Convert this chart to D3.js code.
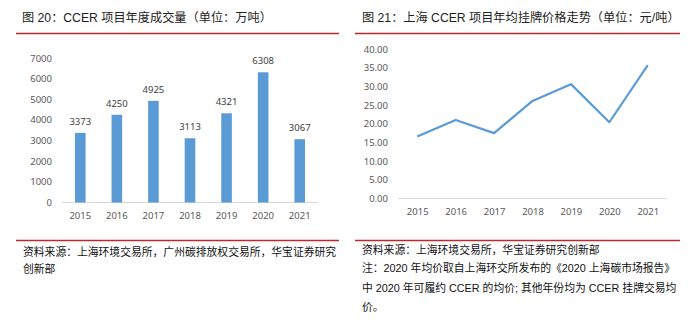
<!DOCTYPE html>
<html><head><meta charset="utf-8">
<script src="https://cdn.jsdelivr.net/npm/d3@7"></script>
<style>body{margin:0;background:#fff}svg{display:block}</style>
</head><body>
<svg id="c" width="695" height="323"></svg>
<script>
const years = ["2015","2016","2017","2018","2019","2020","2021"];
const volume = [3373,4250,4925,3113,4321,6308,3067];
const price = [16.6,21.0,17.5,26.1,30.6,20.4,35.7];
const volTicks = [0,1000,2000,3000,4000,5000,6000,7000];
const priceTicks = [0,5,10,15,20,25,30,35,40];
const leftTitle = "图 20：CCER 项目年度成交量（单位：万吨）";
const rightTitle = "图 21：上海 CCER 项目年均挂牌价格走势（单位：元/吨）";
const leftNotes = ["资料来源：上海环境交易所，广州碳排放权交易所，华宝证券研究","创新部"];
const rightNotes = ["资料来源：上海环境交易所，华宝证券研究创新部",
 "注：2020 年均价取自上海环交所发布的《2020 上海碳市场报告》",
 "中 2020 年可履约 CCER 的均价; 其他年份均为 CCER 挂牌交易均",
 "价。"];

const svg = d3.select("#c");
const cjk = "'Liberation Sans','Noto Sans CJK SC',sans-serif";
const tickFont = "'Noto Sans','Liberation Sans',sans-serif";
const red = "#c0282d", blue = "#5b9bd5";

function frame(x0, x1, tx, title, notes, nx, nys){
  svg.append("text").attr("x",tx).attr("y",22).attr("font-family",cjk).attr("font-size",12.2).attr("fill","#222").text(title);
  svg.append("line").attr("x1",x0).attr("x2",x1).attr("y1",33.5).attr("y2",33.5).attr("stroke",red).attr("stroke-width",1.3);
  svg.append("line").attr("x1",x0).attr("x2",x1).attr("y1",240.5).attr("y2",240.5).attr("stroke",red).attr("stroke-width",1.3);
  notes.forEach((t,i)=>svg.append("text").attr("x",nx).attr("y",nys[i]).attr("font-family",cjk).attr("font-size",10.8).attr("fill","#111").text(t));
}
frame(16,339,22,leftTitle,leftNotes,23,[256,273]);
frame(355,680,362,rightTitle,rightNotes,362,[254,272,292,311]);

function styleAxis(g){
  g.select(".domain").remove();
  g.selectAll(".tick line").remove();
  g.selectAll("text").attr("font-family",tickFont).attr("font-size",9.5).attr("fill","#595959");
}

// Left bar chart
const x1 = d3.scaleBand().domain(years).range([62,318]).paddingInner(0.71).paddingOuter(0.355);
const y1 = d3.scaleLinear().domain([0,7000]).range([202.5,58]);
svg.append("g").attr("transform","translate(57,0)")
  .call(d3.axisLeft(y1).tickValues(volTicks).tickFormat(d3.format("d")).tickSize(0).tickPadding(5)).call(styleAxis);
svg.append("g").attr("transform","translate(0,202.5)")
  .call(d3.axisBottom(x1).tickSize(0).tickPadding(10)).call(styleAxis);
svg.append("line").attr("x1",62).attr("x2",318).attr("y1",202.5).attr("y2",202.5).attr("stroke","#d9d9d9");
svg.selectAll("rect.bar").data(volume).join("rect").attr("class","bar")
  .attr("x",(d,i)=>x1(years[i])).attr("width",x1.bandwidth())
  .attr("y",d=>y1(d)).attr("height",d=>y1(0)-y1(d)).attr("fill",blue);
svg.selectAll("text.lbl").data(volume).join("text").attr("class","lbl")
  .attr("x",(d,i)=>x1(years[i])+x1.bandwidth()/2).attr("y",d=>y1(d)-8)
  .attr("text-anchor","middle").attr("font-family",tickFont).attr("font-size",9.5).attr("fill","#404040").text(d=>d);

// Right line chart
const x2 = d3.scalePoint().domain(years).range([398,667]).padding(0.5);
const y2 = d3.scaleLinear().domain([0,40]).range([198.5,49]);
svg.append("g").attr("transform","translate(393,0)")
  .call(d3.axisLeft(y2).tickValues(priceTicks).tickFormat(d3.format(".2f")).tickSize(0).tickPadding(5)).call(styleAxis);
svg.append("g").attr("transform","translate(0,198.5)")
  .call(d3.axisBottom(x2).tickSize(0).tickPadding(10)).call(styleAxis);
svg.append("line").attr("x1",398).attr("x2",667).attr("y1",198.5).attr("y2",198.5).attr("stroke","#d9d9d9");
svg.append("path").datum(price)
  .attr("d",d3.line().x((d,i)=>x2(years[i])).y(d=>y2(d)))
  .attr("fill","none").attr("stroke",blue).attr("stroke-width",2.2).attr("stroke-linejoin","round");
</script>
</body></html>
